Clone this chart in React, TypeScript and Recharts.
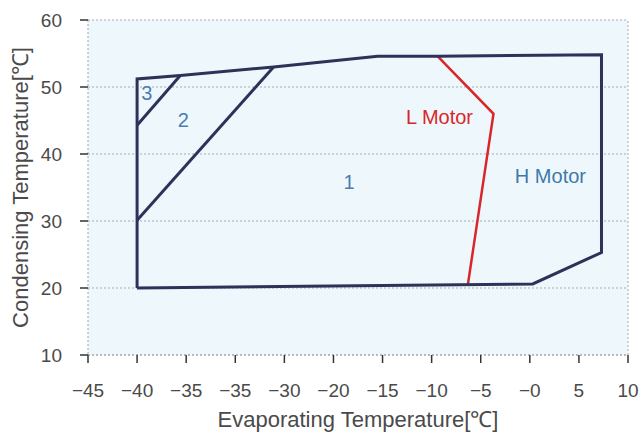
import React from "react";
import {
  LineChart,
  Line,
  XAxis,
  YAxis,
  CartesianGrid,
  ReferenceLine,
  ReferenceDot,
} from "recharts";

// x ticks are evenly spaced -45..10, labels copied as printed
const xTicks = [-45, -40, -35, -30, -25, -20, -15, -10, -5, 0, 5, 10];
const xTickLabels = ["−45", "−40", "−35", "−35", "−30", "−20", "−15", "−10", "−5", "−0", "5", "10"];
const yTicks = [10, 20, 30, 40, 50, 60];

// operating envelope (H Motor outline)
const envelope = [
  { x: -40, y: 20.0 },
  { x: -40, y: 51.2 },
  { x: -35.6, y: 51.7 },
  { x: -26.1, y: 53.0 },
  { x: -15.5, y: 54.6 },
  { x: -9.4, y: 54.6 },
  { x: 7.3, y: 54.8 },
  { x: 7.3, y: 25.3 },
  { x: 0.3, y: 20.6 },
  { x: -40, y: 20.0 },
];
const zone3 = [
  { x: -40, y: 44.3 },
  { x: -35.6, y: 51.7 },
];
const zone2 = [
  { x: -40, y: 30.1 },
  { x: -26.1, y: 53.0 },
];
const lMotor = [
  { x: -9.4, y: 54.6 },
  { x: -3.7, y: 46.0 },
  { x: -6.3, y: 20.6 },
];

const labels = [
  { x: -39.0, y: 49.1, text: "3", color: "#4b7cb4" },
  { x: -35.3, y: 45.1, text: "2", color: "#4b7cb4" },
  { x: -18.4, y: 35.8, text: "1", color: "#4b7cb4" },
  { x: -9.2, y: 45.5, text: "L Motor", color: "#d8262a" },
  { x: 2.1, y: 36.7, text: "H Motor", color: "#3f78a8" },
];

const font = "'Liberation Sans', Arial, sans-serif";
const navy = "#2c3358";
const textGray = "#4a4a4a";

// printed labels don't follow the values, so look them up by tick
const XTick = (props: any) => {
  const { x, y, payload } = props;
  const i = xTicks.indexOf(Number(payload.value));
  const txt = i >= 0 ? xTickLabels[i] : String(payload.value);
  return (
    <text x={x} y={y + 34} textAnchor="middle" fill={textGray} fontSize={19} fontFamily={font}>
      {txt}
    </text>
  );
};

export default function App() {
  return (
    <div style={{ position: "absolute", left: 0, top: 0, background: "#fff" }}>
      <LineChart
        width={640}
        height={432}
        margin={{ top: 20, right: 12, left: 0, bottom: 0 }}
        style={{ fontFamily: font }}
      >
        <CartesianGrid
          vertical={false}
          stroke="#a6adb3"
          strokeDasharray="2 2"
          fill="#eef8fc"
        />
        <XAxis
          type="number"
          dataKey="x"
          domain={[-45, 10]}
          ticks={xTicks}
          height={77}
          tickSize={8}
          tickMargin={0}
          axisLine={{ stroke: "#9aa3aa", strokeDasharray: "2 2" }}
          tickLine={{ stroke: "#333", strokeWidth: 1.5 }}
          tick={<XTick />}
          label={{
            value: "Evaporating Temperature[℃]",
            position: "insideBottom",
            offset: 5,
            fill: textGray,
            fontSize: 22,
          }}
        />
        <YAxis
          type="number"
          domain={[10, 60]}
          ticks={yTicks}
          width={88}
          tickSize={8}
          tickMargin={18}
          axisLine={{ stroke: "#9aa3aa", strokeDasharray: "2 2" }}
          tickLine={{ stroke: "#333", strokeWidth: 1.5 }}
          tick={{ fill: textGray, fontSize: 19 }}
          label={{
            value: "Condensing Temperature[℃]",
            angle: -90,
            position: "insideLeft",
            offset: 20,
            fill: textGray,
            fontSize: 22,
            style: { textAnchor: "middle" },
          }}
        />
        <ReferenceLine x={10} stroke="#a6adb3" strokeDasharray="2 2" />
        <Line data={zone3} dataKey="y" stroke={navy} strokeWidth={3} dot={false} isAnimationActive={false} />
        <Line data={zone2} dataKey="y" stroke={navy} strokeWidth={3} dot={false} isAnimationActive={false} />
        <Line data={lMotor} dataKey="y" stroke="#d8262a" strokeWidth={2.5} dot={false} isAnimationActive={false} />
        <Line data={envelope} dataKey="y" stroke={navy} strokeWidth={3} dot={false} isAnimationActive={false} />
        {labels.map((l) => (
          <ReferenceDot
            key={l.text}
            x={l.x}
            y={l.y}
            r={0}
            stroke="none"
            label={{ value: l.text, position: "center", fill: l.color, fontSize: 20 }}
          />
        ))}
      </LineChart>
    </div>
  );
}
